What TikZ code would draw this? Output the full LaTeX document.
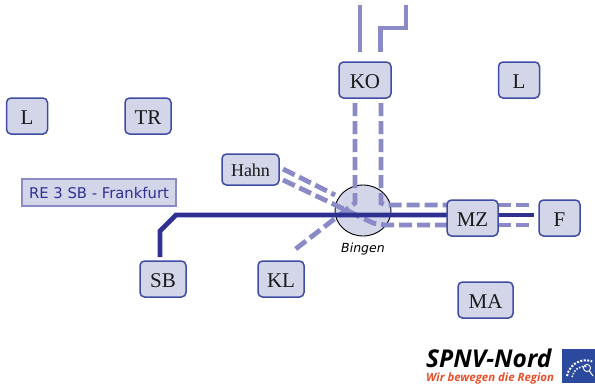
\documentclass[tikz,border=0pt]{standalone}
\usepackage{fontspec}
\usetikzlibrary{shapes.geometric}
\setmainfont{Liberation Serif}
\newfontfamily\labelfont{DejaVu Sans}
\newfontfamily\logofont{Open Sans}
\definecolor{boxfill}{HTML}{D3D5E9}
\definecolor{boxedge}{HTML}{3F4CA3}
\definecolor{darkline}{HTML}{2E3192}
\definecolor{paleline}{HTML}{8A8AC6}
\definecolor{logoblue}{HTML}{2B4A9E}
\definecolor{logored}{HTML}{E8502A}
\tikzset{
  station/.style={draw=boxedge,fill=boxfill,line width=1.5pt,rounded corners=4.5pt,inner sep=0pt,align=center,font=\fontsize{21}{21}\selectfont,text=black!90,text height=16pt,text depth=0pt},
  mainline/.style={draw=darkline,line width=4.8pt},
  otherline/.style={draw=paleline,line width=4.8pt},
  dashline/.style={draw=paleline,line width=4.8pt,dash pattern=on 13pt off 5pt},
  x=1pt,y=-1pt
}
\begin{document}
\begin{tikzpicture}
\useasboundingbox (0,0) rectangle (595,386);
% hub
\node[draw=black,fill=boxfill,line width=0.9pt,ellipse,minimum width=56pt,minimum height=51pt,inner sep=0pt] (hub) at (363,210.5) {};
\node[font=\labelfont\itshape\fontsize{12.5}{13}\selectfont,text=black] (binglabel) at (363,249) {Bingen};
% stations
\node[station,minimum width=52pt,minimum height=36pt] (ko) at (365,80) {KO};
\node[station,minimum width=41pt,minimum height=36pt] (lr) at (519,80) {L};
\node[station,minimum width=41pt,minimum height=36pt] (ll) at (27,116) {L};
\node[station,minimum width=46pt,minimum height=36pt] (tr) at (148,116) {TR};
\node[station,minimum width=57pt,minimum height=31pt,font=\fontsize{18}{18}\selectfont,text height=13.5pt] (hahn) at (250.5,169.5) {Hahn};
\node[station,minimum width=46pt,minimum height=36pt] (sb) at (163,279) {SB};
\node[station,minimum width=46pt,minimum height=36pt] (kl) at (281,279) {KL};
\node[station,minimum width=55pt,minimum height=36pt] (ma) at (485.5,300) {MA};
\node[draw=paleline,fill=boxfill,line width=1.6pt,minimum width=154pt,minimum height=27pt,inner sep=0pt,text=darkline,font=\labelfont\fontsize{14.8}{15}\selectfont] (re) at (99,192.5) {RE 3 SB - Frankfurt};
% free ends
\coordinate (t1a) at (360,5);
\coordinate (t1b) at (360,52);
\coordinate (t2a) at (406,5);
\coordinate (t2b) at (406,28);
\coordinate (t2c) at (380.5,28);
\coordinate (t2d) at (380.5,52);
\coordinate (m1) at (160,257);
\coordinate (m2) at (160,231);
\coordinate (m3) at (176,215);
\coordinate (d1) at (355,103);
\coordinate (d2) at (355,203);
\coordinate (d3) at (293,251);
\coordinate (e1) at (381,103);
\coordinate (e2) at (381,203);
\coordinate (e3) at (386,205);
\coordinate (h1a) at (283,169);
\coordinate (h1b) at (335,195);
\coordinate (h2a) at (283,180);
\coordinate (h2b) at (373,223);
\coordinate (h2c) at (385,225);
% connectors
\draw[otherline] (t1a) -- (t1b);
\draw[otherline] (t2a) -- (t2b) -- (t2c) -- (t2d);
\draw[dashline] (d1) -- (d2) -- (d3);
\draw[dashline] (e1) -- (e2) -- (e3) -- (447,205);
\draw[dashline] (h1a) -- (h1b);
\draw[dashline] (h2a) -- (h2b) -- (h2c) -- (447,225);
\draw[dashline] (498,205) -- (534,205);
\draw[dashline] (498,225) -- (534,225);
\draw[mainline] (m1) -- (m2) -- (m3) -- (447,215);
\draw[mainline] (498,215) -- (534,215);
% stations on lines
\node[station,minimum width=51pt,minimum height=36pt] (mz) at (472.5,218) {MZ};
\node[station,minimum width=41pt,minimum height=36pt] (f) at (559.5,218) {F};
% logo
\node[anchor=base west,inner sep=0pt,font=\logofont\bfseries\itshape\fontsize{24.5}{25}\selectfont,text=black] (logoa) at (426,367) {SPNV-Nord};
\node[anchor=base west,inner sep=0pt,font=\logofont\bfseries\itshape\fontsize{11.4}{12}\selectfont,text=logored] (logob) at (426,381) {Wir bewegen die Region};
\fill[logoblue] (562,349) rectangle (595,383);
\draw[white,line width=2pt,dash pattern=on 2pt off 1.5pt] (567,376) arc[start angle=170,end angle=70,radius=19pt];
\draw[white,line width=1.5pt,dash pattern=on 1.5pt off 1.5pt] (572,377) arc[start angle=170,end angle=80,radius=13pt];
\draw[white,line width=0.9pt] (587,368) circle[radius=3.6pt];
\draw[white,line width=1pt] (589.5,371) -- (593,376);
\end{tikzpicture}
\end{document}
